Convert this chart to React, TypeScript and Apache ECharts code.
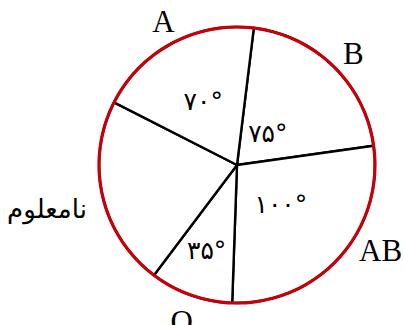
import React, { useEffect, useRef } from "react";
import * as echarts from "echarts";

const categories = ["B", "AB", "O", "نامعلوم", "A"];
const values = [75, 100, 35, 80, 70];
const innerLabels = ["۷۵°", "۱۰۰°", "۳۵°", "", "۷۰°"];

// layout (label distances from centre, px)
const innerDist = [41, 56, 88, 0, 69];
const outerDist = [160, 166, 163, 192, 160];
const outerNudge = [[2, 5], [18, -28], [0, 0], [0, 0], [3, 0]];

const CENTER = [237, 165];
const R = 138;

export default function App() {
  const ref = useRef<HTMLDivElement>(null);
  useEffect(() => {
    if (!ref.current) return;
    const chart = echarts.init(ref.current, undefined, { renderer: "svg" });
    const labelSeries: any[] = [];
    categories.forEach((cat, i) => {
      const kinds: [string, number, string, number, number[]][] = [];
      if (innerLabels[i]) kinds.push(["in", innerDist[i], innerLabels[i], 25, [0, 0]]);
      kinds.push(["out", outerDist[i], cat, i === 3 ? 26 : 31, outerNudge[i]]);
      kinds.forEach(([kind, d, text, fs, nudge]) => {
        const isLatin = kind === "out" && i !== 3;
        labelSeries.push({
          type: "pie",
          silent: true,
          center: CENTER,
          radius: [d - 1, d + 1],
          startAngle: 83,
          clockwise: true,
          avoidLabelOverlap: false,
          emphasis: { disabled: true },
          itemStyle: { color: "rgba(0,0,0,0)", borderWidth: 0 },
          labelLine: { show: false },
          labelLayout: nudge[0] || nudge[1] ? { dx: nudge[0], dy: nudge[1] } : undefined,
          data: categories.map((c, j) => ({
            name: c,
            value: values[j],
            label: {
              show: j === i,
              position: "inside",
              formatter: () => text,
              color: "#000",
              fontSize: fs,
              fontWeight: "normal",
              fontFamily: isLatin ? "Liberation Serif" : "DejaVu Sans",
            },
          })),
        });
      });
    });

    chart.setOption({
      animation: false,
      backgroundColor: "#fff",
      series: [
        {
          type: "pie",
          silent: true,
          center: CENTER,
          radius: [0, R],
          startAngle: 83,
          clockwise: true,
          emphasis: { disabled: true },
          label: { show: false },
          labelLine: { show: false },
          itemStyle: { color: "#fff", borderColor: "#000", borderWidth: 2.4 },
          data: categories.map((c, j) => ({ name: c, value: values[j] })),
        },
        {
          type: "pie",
          silent: true,
          center: CENTER,
          radius: [R - 1.6, R + 1.6],
          emphasis: { disabled: true },
          label: { show: false },
          labelLine: { show: false },
          itemStyle: { color: "#c5000a", borderWidth: 0 },
          data: [{ value: 1, name: "ring" }],
        },
        ...labelSeries,
      ],
    });
    return () => chart.dispose();
  }, []);
  return (
    <div
      ref={ref}
      style={{ position: "fixed", left: 0, top: 0, width: 404, height: 325 }}
    />
  );
}
